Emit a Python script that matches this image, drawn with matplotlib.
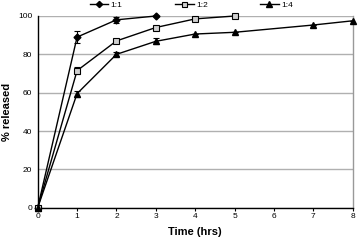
import numpy as np
import matplotlib.pyplot as plt

plt.rcParams['font.family'] = ['Liberation Sans', 'DejaVu Sans']

# release data
t_11 = [0, 1, 2, 3]
r_11 = [0, 89, 98, 100]
e_11 = [0, 3.3, 1.5, 0]

t_12 = [0, 1, 2, 3, 4, 5]
r_12 = [0, 71.5, 87, 94, 98.5, 100]
e_12 = [0, 2, 1, 0, 0, 0]

t_14 = [0, 1, 2, 3, 4, 5, 7, 8]
r_14 = [0, 59.5, 80, 86.8, 90.6, 91.5, 95.3, 97.5]
e_14 = [0, 1.5, 1, 1.5, 0, 0, 0, 0]

fig = plt.figure(figsize=(3.58, 2.42), dpi=100)
ax = fig.add_axes([37.7 / 358, 1 - 207.7 / 242, 315 / 358, 191.7 / 242])

# lines + markers
ax.plot(t_11, r_11, color='black', lw=1.0, marker='D', ms=3.5, label='1:1', clip_on=False, zorder=4)
ax.plot(t_12, r_12, color='black', lw=1.0, marker='s', ms=4, mfc='#d0d0d0', mec='black', mew=0.8,
        label='1:2', clip_on=False, zorder=4)
ax.plot(t_14, r_14, color='black', lw=1.0, marker='^', ms=4.5, label='1:4', clip_on=False, zorder=4)

# error bars drawn separately so the legend stays clean
for t, r, e in [(t_11, r_11, e_11), (t_12, r_12, e_12), (t_14, r_14, e_14)]:
    ax.errorbar(t, r, yerr=e, fmt='none', ecolor='black', elinewidth=0.8, capsize=2, capthick=0.8)

ax.set_xlim(0, 8)
ax.set_ylim(0, 100)
ax.set_xticks(range(0, 9))
ax.set_yticks(range(0, 101, 20))
ax.yaxis.grid(True, color='#b0b0b0', lw=1.0)
ax.set_axisbelow(True)
ax.tick_params(labelsize=6, length=2.5, width=0.8, pad=1.5)
ax.tick_params(axis='y', length=0, pad=4)
for s in ['left', 'bottom']:
    ax.spines[s].set_color('black')
    ax.spines[s].set_linewidth(1.0)
ax.spines['top'].set_visible(False)
ax.spines['right'].set_color('#999999')
ax.spines['right'].set_linewidth(1.0)

ax.set_xlabel('Time (hrs)', fontsize=8, fontweight='bold', labelpad=5)
ax.set_ylabel('% released', fontsize=8, fontweight='bold')
ax.yaxis.set_label_coords(-0.083, 0.5)

fig.legend(loc='upper left', bbox_to_anchor=(90 / 358, 1 - 1.5 / 242), ncol=3, frameon=False,
           fontsize=6, handlelength=2.2, columnspacing=6.3, handletextpad=0.3,
           borderpad=0, borderaxespad=0, markerscale=0.9)

fig.savefig('out.png', dpi=100)
